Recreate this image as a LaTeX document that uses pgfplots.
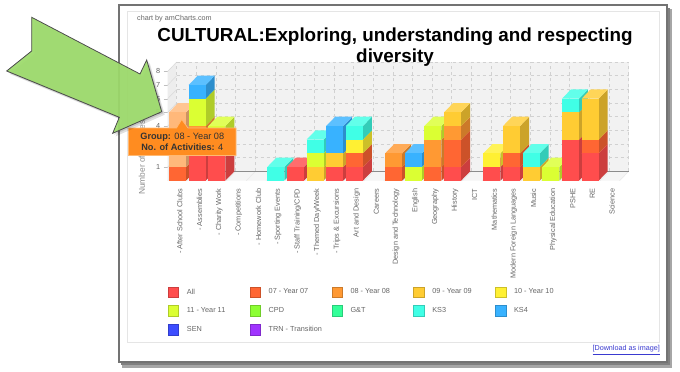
\documentclass[border=0pt]{standalone}
\usepackage{pgfplots}
\pgfplotsset{compat=1.18}
\usepackage{fontspec}
\setmainfont{Liberation Sans}
\definecolor{txt}{HTML}{666666}
\definecolor{arrowg}{HTML}{9EDC6C}
\definecolor{linkb}{HTML}{3A3AD0}
\newcommand\defc[2]{%
  \definecolor{c#1f}{HTML}{#2}%
  \colorlet{c#1s}{c#1f!80!black}%
  \colorlet{c#1t}{c#1f!82!white}}
\defc{A}{FF4D4D}   % All
\defc{B}{FF6633}   % 07
\defc{C}{FF9933}   % 08
\defc{D}{FFCC33}   % 09
\defc{E}{FFF033}   % 10
\defc{F}{DBFF33}   % 11
\defc{G}{8CFF33}   % CPD
\defc{H}{33FF99}   % G&T
\defc{I}{40FFE6}   % KS3
\defc{J}{38B2FF}   % KS4
\defc{K}{3D4DFF}   % SEN
\defc{L}{A033FF}   % TRN
\defc{M}{FFB87A}   % hovered 08
% one stacked segment: category, from, to, colour
\newcommand\seg[4]{%
  \addplot[fill=c#4s,draw=none] coordinates {(#1+0.4326,#2)(#1+0.8906,#2+0.68)(#1+0.8906,#3+0.68)(#1+0.4326,#3)} --cycle;
  \addplot[fill=c#4t,draw=none] coordinates {(#1-0.4326,#3)(#1+0.4326,#3)(#1+0.8906,#3+0.68)(#1+0.0254,#3+0.68)} --cycle;
  \addplot[fill=c#4f,draw=none] coordinates {(#1-0.4326,#2)(#1+0.4326,#2)(#1+0.4326,#3)(#1-0.4326,#3)} --cycle;
}
\newcommand\sw[2]{\addlegendimage{legend image code/.code={\fill[c#1f,draw=c#1s,line width=0.6pt] (0.3pt,-5.2pt) rectangle (10.7pt,5.2pt);}}\addlegendentry{\makebox[70.8pt][l]{\hspace{8pt}#2}}}
\begin{document}
\begin{tikzpicture}
\path[use as bounding box,fill=white] (0,0) rectangle (680pt,-372pt);
\begin{scope}[x=1pt,y=-1pt]
  % outer frame
  \fill[black!35] (122,9) rectangle (672,368);
  \fill[black!50] (121,8) rectangle (670,365);
  \fill[white,draw=black!55,line width=2pt] (118.5,4.5) rectangle (666.5,361.5);
  \draw[black!10,line width=1pt] (127.7,11) rectangle (659,342.7);
  \node[anchor=west,font=\fontsize{7.2}{8}\selectfont,text=txt,inner sep=0pt] at (137,18.5) {chart by amCharts.com};
  \node[anchor=east,font=\fontsize{7.2}{8}\selectfont,text=linkb,inner sep=0pt] at (660,350) {\underline{[Download as image]}};
\end{scope}
\begin{axis}[
  at={(167.7pt,-180.7pt)},anchor=south west,
  scale only axis,width=451.9pt,height=109.36pt,
  xmin=-0.5,xmax=22.5,ymin=0,ymax=8,clip=false,
  axis x line*=bottom,axis y line*=left,axis line style={draw=none},
  xtick={0,...,22},ytick={1,...,8},
  xticklabels={- After School Clubs,- Assemblies,- Charity Work,- Competitions,- Homework Club,- Sporting Events,- Staff Training/CPD,- Themed Day/Week,- Trips \& Excursions,Art and Design,Careers,Design and Technology,English,Geography,History,ICT,Mathematics,Modern Foreign Languages,Music,Physical Education,PSHE,RE,Science},
  x tick style={draw=none},
  y tick style={draw=black!25},major tick length=4pt,tick align=outside,
  x tick label style={rotate=90,anchor=east,font=\fontsize{7.3}{8}\selectfont,text=txt,xshift=-0.5pt,yshift=-2.3pt},
  y tick label style={font=\fontsize{7.3}{8}\selectfont,text=txt,/pgf/number format/assume math mode=true},
  ylabel={Number of Activities},
  every axis y label/.style={at={(axis description cs:-0.0569,0.211)},rotate=90,anchor=center,font=\fontsize{8.4}{9}\selectfont,text=black!45},
  legend style={at={(0,-0.967)},anchor=north west,draw=none,fill=none,inner sep=0pt,font=\fontsize{7.3}{8}\selectfont,text=txt,legend columns=5,legend cell align=left,
    row sep=7.8pt,nodes={inner sep=0pt}},
  every axis plot/.append style={forget plot,no marks},
]
% walls and floor
\addplot[fill=black!7,draw=none] coordinates {(-0.5,0)(-0.042,0.68)(-0.042,8.68)(-0.5,8)} --cycle;
\addplot[fill=black!4,draw=none] coordinates {(-0.5,0)(22.5,0)(22.958,0.68)(-0.042,0.68)} --cycle;
\addplot[fill=black!5,draw=none] coordinates {(-0.042,0.68)(22.958,0.68)(22.958,8.68)(-0.042,8.68)} --cycle;
\pgfplotsinvokeforeach{1,...,8}{
  \draw[black!18,dashed,line width=0.6pt] (axis cs:-0.042,#1+0.68) -- (axis cs:22.958,#1+0.68);
  \draw[black!15,line width=0.5pt] (axis cs:-0.5,#1) -- (axis cs:-0.042,#1+0.68);
}
\pgfplotsinvokeforeach{0,...,23}{
  \draw[black!18,dashed,line width=0.6pt] (axis cs:#1-0.042,0.68) -- (axis cs:#1-0.042,8.68);
  \draw[black!9,line width=0.5pt] (axis cs:#1-0.5,0) -- (axis cs:#1-0.042,0.68);
}
\draw[black!45,line width=0.7pt] (axis cs:-0.042,0.68) -- (axis cs:22.958,0.68);
% After School Clubs
\seg{0}{0}{1}{B}\seg{0}{1}{5}{M}
% Assemblies
\seg{1}{0}{3}{A}\seg{1}{3}{4}{C}\seg{1}{4}{6}{F}\seg{1}{6}{7}{J}
% Charity Work
\seg{2}{0}{3}{A}\seg{2}{3}{4}{F}
% Sporting Events
\seg{5}{0}{1}{I}
% Staff Training
\seg{6}{0}{1}{A}
% Themed Day
\seg{7}{0}{1}{D}\seg{7}{1}{2}{F}\seg{7}{2}{3}{I}
% Trips
\seg{8}{0}{1}{A}\seg{8}{1}{2}{D}\seg{8}{2}{4}{J}
% Art and Design
\seg{9}{0}{1}{A}\seg{9}{1}{2}{B}\seg{9}{2}{3}{E}\seg{9}{3}{4}{I}
% D&T
\seg{11}{0}{1}{B}\seg{11}{1}{2}{C}
% English
\seg{12}{0}{1}{F}\seg{12}{1}{2}{J}
% Geography
\seg{13}{0}{1}{B}\seg{13}{1}{3}{C}\seg{13}{3}{4}{F}
% History
\seg{14}{0}{1}{A}\seg{14}{1}{3}{B}\seg{14}{3}{4}{C}\seg{14}{4}{5}{D}
% Mathematics
\seg{16}{0}{1}{A}\seg{16}{1}{2}{E}
% MFL
\seg{17}{0}{1}{A}\seg{17}{1}{2}{B}\seg{17}{2}{4}{D}
% Music
\seg{18}{0}{1}{D}\seg{18}{1}{2}{I}
% PE
\seg{19}{0}{1}{F}
% PSHE
\seg{20}{0}{3}{A}\seg{20}{3}{5}{D}\seg{20}{5}{6}{I}
% RE
\seg{21}{0}{2}{A}\seg{21}{2}{3}{B}\seg{21}{3}{6}{D}
\sw{A}{All}\sw{B}{07 - Year 07}\sw{C}{08 - Year 08}\sw{D}{09 - Year 09}\sw{E}{10 - Year 10}
\sw{F}{11 - Year 11}\sw{G}{CPD}\sw{H}{G\&T}\sw{I}{KS3}\sw{J}{KS4}
\sw{K}{SEN}\sw{L}{TRN - Transition}
\end{axis}
\begin{scope}[x=1pt,y=-1pt]
  \node[font=\bfseries\fontsize{18.85}{20}\selectfont,inner sep=0pt] at (395,36.5) {CULTURAL:Exploring, understanding and respecting};
  \node[font=\bfseries\fontsize{18.85}{20}\selectfont,inner sep=0pt] at (395,58) {diversity};
  % tooltip
  \fill[draw=orange!55!white,fill={rgb,255:red,255;green,140;blue,32},line width=0.7pt,line join=miter]
    (128.5,128) -- (176.5,128) -- (181.7,119.5) -- (188,128) -- (236,128) -- (236,155.5) -- (128.5,155.5) -- cycle;
  \node[font=\fontsize{9.2}{10.5}\selectfont,text=black!80,align=center,inner sep=0pt] at (182.3,141.5)
    {\textbf{Group:} 08 - Year 08\\[0.4pt]\textbf{No. of Activities:} 4};
  % callout arrow
  \def\arrowpath{(31.7,17.3) -- (140,74) -- (146.7,60) -- (161.7,111.7) -- (112.7,133.3) -- (119.3,117.3) -- (6.7,71) -- (31.7,51) -- cycle}
  \fill[black,opacity=0.12,xshift=3pt,yshift=-3pt] \arrowpath;
  \fill[black,opacity=0.12,xshift=1.5pt,yshift=-1.5pt] \arrowpath;
  \fill[arrowg,fill opacity=0.93,draw=black!70,line width=0.8pt] \arrowpath;
\end{scope}
\end{tikzpicture}
\end{document}
